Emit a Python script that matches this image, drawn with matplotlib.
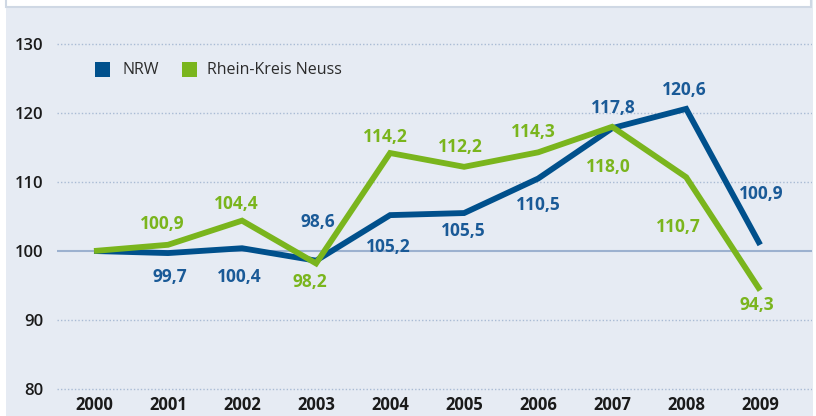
import matplotlib
matplotlib.use("Agg")
import matplotlib.pyplot as plt
from matplotlib.patches import Rectangle

years = [2000, 2001, 2002, 2003, 2004, 2005, 2006, 2007, 2008, 2009]
nrw = [100.0, 99.7, 100.4, 98.6, 105.2, 105.5, 110.5, 117.8, 120.6, 100.9]
rkn = [100.0, 100.9, 104.4, 98.2, 114.2, 112.2, 114.3, 118.0, 110.7, 94.3]
yticks = [80, 90, 100, 110, 120, 130]
series_names = ["NRW", "Rhein-Kreis Neuss"]

# label offsets in pixels (dx, dy up)
nrw_off = [None, (2, -24), (-3, -29), (2, 39), (-2, -32), (-1, -18), (0, -26), (1, 20), (-2, 19), (1, 51)]
rkn_off = [None, (-6, 21), (-6, 17), (-6, -19), (-5, 16), (-4, 20), (-5, 20), (-4, -40), (-8, -50), (-3, -15)]

BLUE = "#00508c"
BLUE_TXT = "#1a5a97"
GREEN = "#7ab51d"
BG = "#e6ebf3"
GRID = "#a9bbd4"

W, H = 816, 416
fig = plt.figure(figsize=(W / 100, H / 100), dpi=100)
fig.patch.set_facecolor("white")

# background panel
fig.add_artist(Rectangle((6 / W, 0), (813 - 6) / W, 1, transform=fig.transFigure,
                         facecolor=BG, edgecolor="none", zorder=0))
# top white box
fig.add_artist(Rectangle((6 / W, 1 - 7 / H), (811 - 6) / W, 10 / H, transform=fig.transFigure,
                         facecolor="white", edgecolor="#cfd8e4", linewidth=1.5, zorder=1))

ax = fig.add_axes([57 / W, (H - 395) / H, (812 - 57) / W, (395 - 30) / H])
ax.set_facecolor("none")
ax.set_xlim(1999.5, 2009.70)
ax.set_ylim(79.13, 132.03)
for s in ax.spines.values():
    s.set_visible(False)

for t in yticks:
    if t == 100:
        ax.axhline(t, color="#9cb1cf", linewidth=1.5, zorder=1)
    else:
        ax.axhline(t, color=GRID, linewidth=1.0, linestyle=(0, (1, 1.5)), zorder=1)

ax.set_yticks(yticks)
ax.set_yticklabels([str(t) for t in yticks], fontsize=12, color="#1a1a1a",
                   fontfamily="Open Sans", fontweight="semibold")
ax.set_xticks(years)
ax.set_xticklabels([str(y) for y in years], fontsize=12, color="#1a1a1a",
                   fontfamily="Open Sans", fontweight="bold")
ax.tick_params(axis="y", length=0, pad=10)
ax.tick_params(axis="x", length=0, pad=1)

ax.plot(years, nrw, color=BLUE, linewidth=4.2, solid_joinstyle="miter", solid_capstyle="butt", zorder=3)
ax.plot(years, rkn, color=GREEN, linewidth=4.2, solid_joinstyle="miter", solid_capstyle="butt", zorder=4)

def fmt(v):
    return f"{v:.1f}".replace(".", ",")

for vals, offs, col in [(nrw, nrw_off, BLUE_TXT), (rkn, rkn_off, GREEN)]:
    for y, v, o in zip(years, vals, offs):
        if o is None:
            continue
        ax.annotate(fmt(v), xy=(y, v), xytext=o, textcoords="offset pixels",
                    ha="center", va="center", fontsize=12.5, color=col,
                    fontfamily="Open Sans", fontweight="bold", zorder=5)

# legend
for (x0, col, name, tx) in [(95, BLUE, series_names[0], 122), (182, GREEN, series_names[1], 207)]:
    fig.add_artist(Rectangle((x0 / W, 1 - 77 / H), 15 / W, 15 / H, transform=fig.transFigure,
                             facecolor=col, edgecolor="none", zorder=6))
    fig.text(tx / W, 1 - 70 / H, name, ha="left", va="center", fontsize=11.5,
             color="#2b2b2b", fontfamily="Open Sans")

fig.savefig("out.png", dpi=100, facecolor=fig.get_facecolor())
